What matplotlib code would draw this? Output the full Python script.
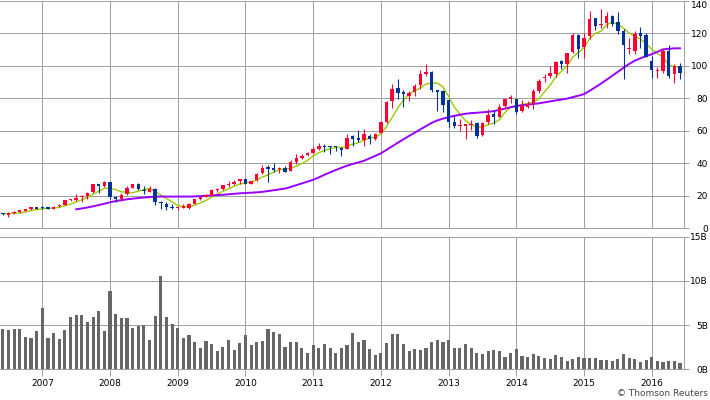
#!/usr/bin/env python3
"""
Monthly candlestick chart with two moving averages and a volume panel,
laid out like the Thomson Reuters price chart (Jun 2006 - Jun 2016).
"""

import matplotlib
matplotlib.use('Agg')
import matplotlib.pyplot as plt
import numpy as np

# Monthly candles, one per month from Jun 2006 to Jun 2016
opens = [8.90, 8.18, 9.58, 9.78, 10.73, 11.63, 13.11,
         12.33, 12.32, 12.00, 13.45, 14.29, 17.30, 17.43, 19.09, 19.84, 22.09, 27.23, 25.99,
         28.47, 19.31, 17.77, 20.90, 24.99, 26.94, 23.46, 22.33, 24.31, 15.99, 14.86, 12.86,
         12.27, 12.73, 12.63, 14.87, 17.90, 19.51, 20.50, 23.44, 23.90, 26.48, 27.00, 28.86,
         30.49, 27.49, 29.39, 33.91, 37.57, 37.10, 36.33, 36.97, 35.36, 40.89, 43.17, 45.07,
         46.51, 48.76, 50.79, 50.16, 50.24, 49.57, 49.04, 56.83, 55.37, 54.34, 56.77, 54.63,
         58.49, 65.49, 78.31, 85.97, 83.56, 81.31, 83.53, 87.99, 95.11, 95.89, 84.86, 84.31,
         79.11, 65.59, 62.57, 63.13, 63.50, 64.43, 57.53, 65.11, 70.44, 68.35, 74.86, 79.71,
         79.39, 71.80, 74.77, 76.83, 84.57, 92.20, 93.52, 94.90, 103.06, 100.81, 108.30, 118.81,
         111.39, 118.05, 129.25, 124.82, 126.10, 130.28, 126.90, 121.50, 110.15, 109.07, 119.87, 118.75,
         102.61, 96.47, 96.87, 108.78, 94.60, 99.60]
highs = [9.50, 9.76, 10.45, 11.11, 11.79, 13.31, 13.24,
         13.97, 12.99, 13.83, 14.64, 17.46, 18.23, 21.27, 20.74, 22.14, 27.16, 27.53, 29.00,
         28.61, 19.71, 21.57, 25.71, 27.46, 27.97, 25.84, 25.79, 24.76, 16.63, 15.91, 14.80,
         13.89, 14.71, 15.57, 18.14, 19.57, 21.00, 23.86, 24.57, 26.86, 29.29, 29.71, 30.43,
         30.80, 29.29, 33.93, 38.93, 38.69, 39.86, 37.86, 38.54, 42.10, 45.57, 45.56, 46.67,
         49.80, 52.13, 51.67, 50.73, 50.73, 49.70, 57.79, 57.14, 60.41, 60.96, 57.79, 58.43,
         65.46, 78.23, 88.78, 92.00, 85.25, 84.57, 88.56, 97.27, 100.73, 96.68, 84.94, 84.94,
         79.29, 69.27, 67.14, 63.43, 66.54, 65.30, 65.14, 73.39, 72.56, 76.67, 79.76, 82.16,
         79.57, 78.74, 78.43, 85.63, 92.03, 95.05, 99.44, 102.90, 103.74, 108.04, 119.75, 119.25,
         120.00, 133.60, 129.50, 134.54, 132.97, 131.39, 132.97, 122.57, 116.89, 121.22, 123.82, 119.86,
         105.85, 98.89, 110.42, 112.39, 100.73, 101.89]
lows = [8.00, 7.17, 9.06, 9.48, 10.60, 11.37, 11.56,
        11.64, 11.90, 11.86, 12.80, 14.21, 16.49, 17.07, 16.01, 18.03, 21.80, 21.51, 25.43,
        18.01, 16.37, 16.49, 20.50, 24.63, 23.81, 20.93, 22.33, 14.37, 12.14, 11.30, 12.06,
        11.17, 12.36, 11.76, 14.71, 17.14, 19.14, 19.57, 22.29, 23.57, 25.57, 26.71, 27.14,
        27.17, 27.19, 29.36, 33.50, 28.46, 34.71, 34.23, 34.57, 35.00, 39.71, 42.57, 44.47,
        46.14, 48.24, 46.61, 45.74, 47.31, 44.36, 48.91, 50.43, 52.86, 50.60, 51.90, 54.04,
        58.43, 64.85, 73.74, 79.29, 74.60, 78.36, 81.43, 85.75, 93.71, 83.96, 72.25, 71.60,
        62.14, 61.43, 59.86, 55.01, 60.64, 55.55, 56.47, 64.16, 64.39, 68.21, 73.43, 77.20,
        70.51, 71.33, 73.86, 73.04, 83.07, 89.65, 92.57, 93.28, 97.79, 95.18, 107.72, 104.63,
        104.63, 116.08, 121.63, 123.36, 123.36, 124.48, 119.22, 92.00, 107.36, 107.31, 111.00, 105.00,
        92.39, 92.59, 95.60, 92.51, 89.47, 91.50]
closes = [8.70, 9.71, 9.69, 11.00, 11.58, 13.09, 12.12,
          12.25, 12.09, 13.27, 14.26, 17.31, 17.43, 18.82, 19.78, 21.92, 27.14, 26.03, 28.30,
          19.34, 17.86, 20.50, 24.85, 26.96, 23.92, 22.71, 24.22, 16.24, 15.37, 13.24, 12.19,
          12.88, 12.76, 15.02, 17.98, 19.40, 20.35, 23.34, 24.03, 26.48, 26.93, 28.56, 30.10,
          27.44, 29.23, 33.57, 37.30, 36.70, 35.93, 36.75, 34.73, 40.54, 43.00, 44.45, 46.08,
          48.47, 50.46, 49.79, 50.02, 49.69, 47.95, 55.78, 54.98, 54.47, 57.83, 54.60, 57.86,
          65.21, 77.49, 85.65, 83.43, 82.53, 83.43, 87.25, 95.03, 95.30, 85.05, 83.61, 76.02,
          65.07, 63.06, 63.24, 63.25, 64.25, 56.65, 64.65, 69.60, 68.11, 74.67, 79.44, 80.15,
          71.51, 75.18, 76.68, 84.30, 90.43, 92.93, 95.60, 102.50, 100.75, 108.00, 118.93, 110.38,
          117.16, 128.46, 124.43, 125.15, 130.28, 125.43, 121.30, 112.76, 110.30, 119.50, 118.30, 105.26,
          97.34, 96.69, 108.99, 93.74, 99.86, 95.60]

# Monthly volume, billions of shares
volume_bn = [4.58, 4.47, 4.58, 4.58, 3.67, 3.56, 4.36,
             6.97, 3.56, 4.13, 3.45, 4.47, 5.95, 6.17, 6.17, 5.38, 5.95, 6.63, 4.36,
             8.90, 6.29, 5.83, 5.83, 4.70, 4.92, 5.04, 3.33, 6.06, 10.49, 5.95, 5.15,
             4.70, 3.56, 3.90, 3.11, 2.42, 3.22, 2.88, 2.08, 2.54, 3.33, 2.20, 2.99,
             3.90, 2.77, 3.11, 3.22, 4.58, 4.24, 4.02, 2.54, 3.11, 3.11, 2.42, 1.86,
             2.77, 2.42, 2.88, 2.42, 1.86, 2.42, 2.77, 4.13, 3.11, 3.33, 2.31, 1.63,
             1.86, 2.99, 4.02, 4.02, 2.88, 2.08, 2.31, 2.20, 2.42, 3.11, 3.33, 3.11,
             3.33, 2.42, 2.42, 2.88, 2.42, 1.86, 1.74, 2.08, 2.20, 2.08, 1.40, 1.86,
             2.31, 1.52, 1.40, 1.74, 1.52, 1.29, 1.17, 1.63, 1.40, 0.95, 1.17, 1.40,
             1.29, 1.29, 1.29, 1.06, 1.06, 0.95, 1.17, 1.74, 1.29, 1.17, 0.83, 1.06,
             1.40, 0.95, 0.83, 0.95, 0.95, 0.72]

# Short moving average (green), one value per month
ma_short = [9.10, 9.09, 9.24, 9.42, 10.03, 11.01, 11.50,
            12.01, 12.23, 12.56, 12.80, 13.84, 14.87, 16.22, 17.52, 19.05, 21.02, 22.74, 24.63,
            24.55, 23.73, 22.41, 22.17, 21.90, 22.82, 23.79, 24.53, 22.81, 20.49, 18.36, 16.25,
            13.98, 13.29, 13.22, 14.17, 15.61, 17.10, 19.22, 21.02, 22.72, 24.23, 25.87, 27.22,
            27.90, 28.45, 29.78, 31.53, 32.85, 34.55, 36.05, 36.28, 36.93, 38.19, 39.89, 41.76,
            44.51, 46.49, 47.85, 48.96, 49.69, 49.58, 50.65, 51.68, 52.57, 54.20, 55.53, 55.95,
            57.99, 62.60, 68.16, 73.93, 78.86, 82.51, 84.46, 86.33, 88.71, 89.21, 89.25, 87.00,
            81.01, 74.56, 70.20, 66.13, 63.77, 62.09, 62.41, 63.68, 64.65, 66.74, 71.29, 74.39,
            74.78, 76.19, 76.59, 77.56, 79.62, 83.90, 87.99, 93.15, 96.44, 99.96, 105.16, 108.11,
            111.04, 116.59, 119.87, 121.12, 125.10, 126.75, 125.32, 122.98, 120.01, 117.86, 116.43, 113.22,
            110.14, 107.42, 105.32, 100.40, 99.32, 98.98]

# Long moving average (purple), starts at Jul 2007
ma_long_start = 13
ma_long = [11.7, 12.2, 12.8, 13.5, 14.3, 15.1, 16.0, 16.7,
           17.3, 17.8, 18.2, 18.6, 18.9, 19.2, 19.4, 19.5, 19.5, 19.5,
           19.5, 19.5, 19.5, 19.6, 19.8, 20.0, 20.2, 20.4, 20.6, 20.9,
           21.2, 21.5, 21.7, 21.9, 22.1, 22.4, 22.9, 23.4, 23.9, 24.4,
           25.4, 26.5, 27.6, 28.7, 29.8, 31.3, 32.9, 34.4, 35.8, 37.2,
           38.5, 39.5, 40.5, 41.5, 43.0, 44.5, 46.1, 48.2, 50.4, 52.6,
           54.7, 56.8, 58.8, 60.8, 62.8, 64.8, 66.3, 67.4, 68.3, 69.1,
           69.8, 70.4, 70.8, 71.0, 71.3, 71.6, 72.0, 72.8, 73.6, 74.4,
           75.2, 75.6, 76.0, 76.4, 76.8, 77.4, 78.0, 78.6, 79.1, 79.7,
           80.6, 81.5, 82.5, 84.5, 86.7, 88.9, 91.3, 93.8, 96.2, 98.6,
           101.0, 103.0, 104.5, 105.8, 107.0, 108.5, 110.0, 110.3, 110.6, 110.6]

years = ['2007', '2008', '2009', '2010', '2011', '2012', '2013', '2014', '2015', '2016']
first_january = 7  # index of Jan 2007

price_ticks = [0, 20, 40, 60, 80, 100, 120, 140]
volume_ticks = [0, 5, 10, 15]
volume_labels = ['0B', '5B', '10B', '15B']

UP_COLOR = '#ff0033'
DOWN_COLOR = '#003399'
GRID_COLOR = '#a0a0a0'
PX = 0.72  # one pixel in points at 100 dpi
FONT_SIZE = 6.5


def style_panel(ax, yticks, ylabels, year_pos):
    """Grid, spines and right-hand tick labels shared by both panels."""
    ax.set_xlim(-0.5, 120.66)
    ax.set_yticks(yticks)
    ax.set_yticklabels(ylabels)
    ax.set_xticks(year_pos)
    ax.yaxis.tick_right()
    ax.tick_params(axis='y', length=5 * PX, width=PX, color=GRID_COLOR,
                   pad=13.9, labelsize=FONT_SIZE, labelcolor='black')
    for lab in ax.get_yticklabels():
        lab.set_horizontalalignment('right')
    ax.grid(True, color=GRID_COLOR, linewidth=PX)
    ax.set_axisbelow(True)
    ax.spines['left'].set_visible(False)
    for side in ('top', 'bottom', 'right'):
        ax.spines[side].set_color(GRID_COLOR)
        ax.spines[side].set_linewidth(PX)


def plot_price(ax, year_pos):
    x = np.arange(len(closes))
    o = np.array(opens)
    c = np.array(closes)
    colors = np.where(c >= o, UP_COLOR, DOWN_COLOR)

    ax.plot(x, ma_short, color='#99cc00', linewidth=1.0, zorder=3)
    xl = np.arange(ma_long_start, ma_long_start + len(ma_long))
    ax.plot(xl, ma_long, color='#9900ff', linewidth=1.4, zorder=3)

    ax.vlines(x, lows, highs, colors=colors, linewidth=PX * 1.1, zorder=4)
    body = np.maximum(np.abs(c - o), 0.7)
    ax.bar(x, body, width=0.6, bottom=np.minimum(o, c), color=colors,
           linewidth=0, zorder=5)

    ax.set_ylim(0, 140)
    style_panel(ax, price_ticks, [str(t) for t in price_ticks], year_pos)
    ax.tick_params(axis='x', length=0, labelbottom=False)
    # top label sits inside the picture
    ax.get_yticklabels()[-1].set_verticalalignment('top')


def plot_volume(ax, year_pos):
    x = np.arange(len(volume_bn))
    ax.bar(x, volume_bn, width=0.55, color='#666666', linewidth=0, zorder=3)
    ax.set_ylim(0, 15)
    style_panel(ax, volume_ticks, volume_labels, year_pos)
    ax.set_xticklabels(years)
    ax.tick_params(axis='x', length=7 * PX, width=PX, color=GRID_COLOR,
                   pad=2.0, labelsize=FONT_SIZE)


def main():
    fig = plt.figure(figsize=(7.1, 4.0), dpi=100)
    year_pos = [first_january + 12 * k for k in range(len(years))]

    right = 683.7 / 710
    ax_price = fig.add_axes([0, 1 - 228.3 / 400, right, 227.8 / 400])
    ax_vol = fig.add_axes([0, 1 - 369.3 / 400, right, 132.8 / 400])

    plot_price(ax_price, year_pos)
    plot_volume(ax_vol, year_pos)

    fig.text(708 / 710, 1 - 394 / 400, '\u00a9 Thomson Reuters', ha='right',
             va='center', fontsize=FONT_SIZE, color='#444444')

    fig.savefig('out.png', dpi=100)
    plt.close(fig)


if __name__ == '__main__':
    main()
